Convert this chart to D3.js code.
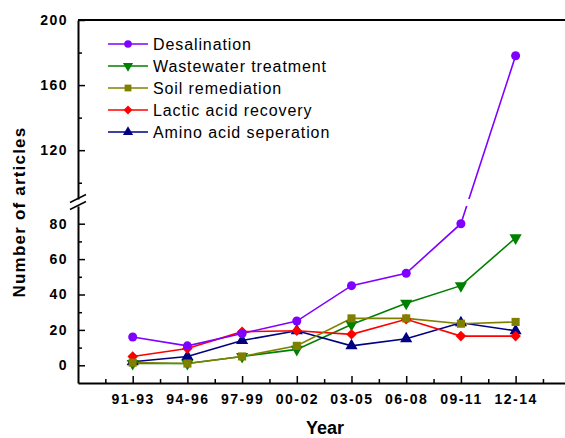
<!DOCTYPE html>
<html>
<head>
<meta charset="utf-8">
<script src="https://cdn.jsdelivr.net/npm/d3@7"></script>
<style>
  body { margin: 0; background: #fff; }
  svg { display: block; font-family: 'Liberation Sans', Arial, sans-serif; }
  .axis path, .axis line { stroke: #000; }
  .axis text { font-size: 14px; font-weight: bold; letter-spacing: 1.5px; fill: #000; }
  .legend text { font-size: 16px; letter-spacing: 0.9px; fill: #000; }
</style>
</head>
<body>
<svg id="chart" width="565" height="438"></svg>
<script>
const categories = ['91-93', '94-96', '97-99', '00-02', '03-05', '06-08', '09-11', '12-14'];
const desalination = [16, 11, 18, 25, 45, 52, 80, 178];
const wastewater = [1, 1, 5, 9, 23, 35, 45, 72];
const soil = [1.5, 1, 5, 11, 26.5, 26.5, 23.5, 24.5];
const lactic = [5, 9.5, 19, 19.5, 17.5, 26, 16.5, 16.5];
const amino = [2, 5, 14, 19.5, 11, 15, 24, 19.5];

const lowerTicks = [0, 20, 40, 60, 80];
const lowerMinor = [10, 30, 50, 70];
const upperTicks = [120, 160, 200];
const upperMinor = [100, 140, 180];
const breakValue = 90;

const series = [
  { name: 'Desalination', values: desalination, color: '#8000ff', symbol: d3.symbolCircle, size: 64, rotate: 0 },
  { name: 'Wastewater treatment', values: wastewater, color: '#008000', symbol: d3.symbolTriangle, size: 64, rotate: 180 },
  { name: 'Soil remediation', values: soil, color: '#808000', symbol: d3.symbolSquare, size: 66, rotate: 0 },
  { name: 'Lactic acid recovery', values: lactic, color: '#ff0000', symbol: d3.symbolSquare, size: 56, rotate: 45 },
  { name: 'Amino acid seperation', values: amino, color: '#000080', symbol: d3.symbolTriangle, size: 64, rotate: 0 },
];
// drawing order, roughly as in the picture (olive over green, purple on top)
const drawOrder = [1, 4, 3, 2, 0];

// the frame runs past the right edge of the picture
const plotLeft = 78, plotRight = 625, plotTop = 20, plotBottom = 383;
const upperBottom = 199, lowerTop = 206;

const svg = d3.select('#chart');
svg.append('rect').attr('width', 565).attr('height', 438).attr('fill', '#fff');

const x = d3.scaleLinear().domain([-1, 9]).range([plotLeft, plotRight]);
const yLow = d3.scaleLinear().domain([-10, breakValue]).range([plotBottom, lowerTop]);
const yUp = d3.scaleLinear().domain([breakValue, 200]).range([upperBottom, plotTop]);
const y = (v) => (v <= breakValue ? yLow(v) : yUp(v));

// clip regions for the two panels
const defs = svg.append('defs');
defs.append('clipPath').attr('id', 'clipUp')
  .append('rect').attr('x', plotLeft).attr('y', plotTop).attr('width', plotRight - plotLeft).attr('height', upperBottom - plotTop);
defs.append('clipPath').attr('id', 'clipLow')
  .append('rect').attr('x', plotLeft).attr('y', lowerTop).attr('width', plotRight - plotLeft).attr('height', plotBottom - lowerTop);

// x axis
const xAxis = svg.append('g').attr('class', 'axis x-axis')
  .attr('transform', `translate(0,${plotBottom})`)
  .call(d3.axisBottom(x).tickValues(d3.range(categories.length))
    .tickFormat((i) => categories[i]).tickSize(-7).tickSizeOuter(0).tickPadding(11));
xAxis.select('.domain').attr('stroke-width', 2);
xAxis.selectAll('.tick line').attr('stroke-width', 1.5);

svg.append('g').attr('class', 'axis')
  .attr('transform', `translate(0,${plotBottom})`)
  .call(d3.axisBottom(x).tickValues(d3.range(-0.5, 9, 1)).tickFormat('').tickSize(-4).tickSizeOuter(0))
  .call((g) => g.select('.domain').remove())
  .selectAll('.tick line').attr('stroke-width', 1.5);

// top frame
svg.append('line').attr('x1', plotLeft).attr('x2', plotRight).attr('y1', plotTop).attr('y2', plotTop)
  .attr('stroke', '#000').attr('stroke-width', 2);

// left y axis, two segments
function yAxisPart(scale, major, minor) {
  const g = svg.append('g').attr('class', 'axis').attr('transform', `translate(${plotLeft},0)`);
  g.call(d3.axisLeft(scale).tickValues(major).tickSize(-7).tickSizeOuter(0).tickPadding(10));
  g.select('.domain').attr('stroke-width', 2);
  g.selectAll('.tick line').attr('stroke-width', 1.5);
  const m = svg.append('g').attr('class', 'axis').attr('transform', `translate(${plotLeft},0)`);
  m.call(d3.axisLeft(scale).tickValues(minor).tickFormat('').tickSize(-4).tickSizeOuter(0));
  m.select('.domain').remove();
  m.selectAll('.tick line').attr('stroke-width', 1.5);
}
yAxisPart(yLow, lowerTicks, lowerMinor);
yAxisPart(yUp, upperTicks, upperMinor);

// break marks
[upperBottom - 0.5, lowerTop - 0.5].forEach((by) => {
  svg.append('line')
    .attr('x1', plotLeft - 8).attr('y1', by + 4).attr('x2', plotLeft + 8).attr('y2', by - 4)
    .attr('stroke', '#000').attr('stroke-width', 1.5);
});

// lines
const line = d3.line().x((d, i) => x(i)).y((d) => y(d));
drawOrder.forEach((k) => {
  const s = series[k];
  ['clipUp', 'clipLow'].forEach((clip) => {
    svg.append('path')
      .datum(s.values)
      .attr('clip-path', `url(#${clip})`)
      .attr('fill', 'none')
      .attr('stroke', s.color)
      .attr('stroke-width', 1.6)
      .attr('d', line);
  });
});

// markers
drawOrder.forEach((k) => {
  const s = series[k];
  svg.append('g').selectAll('path')
    .data(s.values)
    .enter()
    .append('path')
    .attr('transform', (d, i) => `translate(${x(i)},${y(d)}) rotate(${s.rotate})`)
    .attr('d', d3.symbol().type(s.symbol).size(s.size))
    .attr('fill', s.color);
});

// legend
const legend = svg.append('g').attr('class', 'legend');
series.forEach((s, i) => {
  const ly = 44 + i * 22;
  legend.append('line').attr('x1', 108).attr('x2', 148).attr('y1', ly).attr('y2', ly)
    .attr('stroke', s.color).attr('stroke-width', 1.6);
  legend.append('path')
    .attr('transform', `translate(128,${ly}) rotate(${s.rotate})`)
    .attr('d', d3.symbol().type(s.symbol).size(s.size * 0.7))
    .attr('fill', s.color);
  legend.append('text').attr('x', 153).attr('y', ly + 5.5).text(s.name);
});

// axis titles
svg.append('text')
  .attr('x', 325).attr('y', 434)
  .attr('text-anchor', 'middle')
  .style('font-size', '18px').style('font-weight', 'bold')
  .text('Year');

svg.append('text')
  .attr('transform', 'translate(25,212) rotate(-90)')
  .attr('text-anchor', 'middle')
  .style('font-size', '17px').style('font-weight', 'bold').style('letter-spacing', '1.2px')
  .text('Number of articles');
</script>
</body>
</html>
